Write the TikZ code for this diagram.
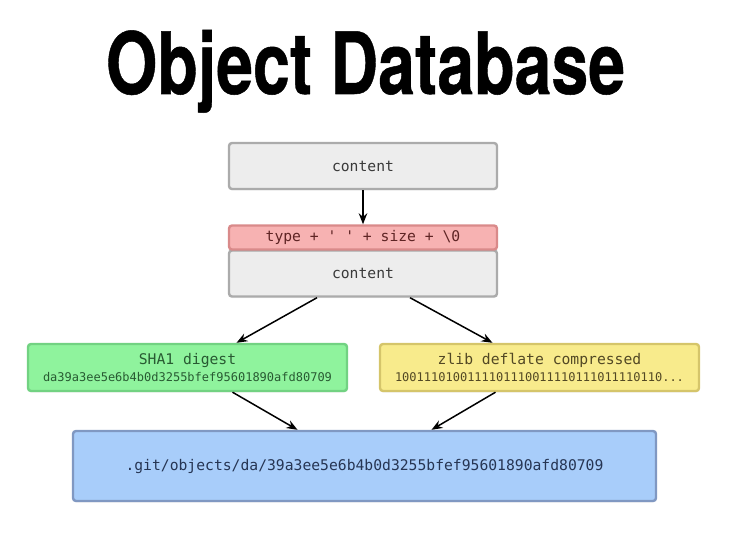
\documentclass[tikz,border=0pt]{standalone}
\usepackage{fontspec}
\usepackage{graphicx}
\usetikzlibrary{arrows.meta,shadows}
\setmonofont{DejaVu Sans Mono}
\newfontfamily\titlefont[FakeBold=0.6]{TeX Gyre Heros Bold}
\definecolor{grayfill}{HTML}{EDEDED}
\definecolor{grayline}{HTML}{ABABAB}
\definecolor{graytext}{HTML}{3A3A3A}
\definecolor{redfill}{HTML}{F7B2B2}
\definecolor{redline}{HTML}{D98A8A}
\definecolor{redtext}{HTML}{5E2424}
\definecolor{greenfill}{HTML}{8FF39D}
\definecolor{greenline}{HTML}{72D282}
\definecolor{greentext}{HTML}{285A32}
\definecolor{yellowfill}{HTML}{F8EB8C}
\definecolor{yellowline}{HTML}{D5C56A}
\definecolor{yellowtext}{HTML}{524824}
\definecolor{bluefill}{HTML}{A8CDFA}
\definecolor{blueline}{HTML}{8098C2}
\definecolor{bluetext}{HTML}{263553}

\begin{document}
\begin{tikzpicture}[x=1pt,y=-1pt,
  box/.style={rectangle,rounded corners=3pt,line width=2.4pt,inner sep=0pt,
    font=\ttfamily\fontsize{14.7}{17}\selectfont,align=center,
    drop shadow={opacity=0.12,shadow xshift=0pt,shadow yshift=-1.5pt}},
  arr/.style={line width=1.5pt,-{Stealth[length=11pt,width=8.5pt]}}]
 \useasboundingbox (0,0) rectangle (736,556); %全体
 \node[anchor=base] (title) at (365.5,94) {\scalebox{0.77}[1]{\titlefont\fontsize{86}{90}\selectfont Object Database}}; %タイトル
 \node[box,draw=grayline,fill=grayfill,text=graytext,minimum width=268,minimum height=46] (raw) at (363,166) {content}; %元の内容
 \node[box,draw=grayline,fill=grayfill,text=graytext,minimum width=268,minimum height=46] (body) at (363,273.5) {content}; %ヘッダ付き内容
 \node[box,draw=redline,fill=redfill,text=redtext,minimum width=268,minimum height=24] (header) at (363,237.5) {type + ' ' + size + \textbackslash0}; %ヘッダ
 \node[box,draw=greenline,fill=greenfill,text=greentext,minimum width=319,minimum height=47] (sha) at (187.5,367.5)
  {SHA1 digest\\\fontsize{12}{17}\selectfont da39a3ee5e6b4b0d3255bfef95601890afd80709}; %ハッシュ
 \node[box,draw=yellowline,fill=yellowfill,text=yellowtext,minimum width=319,minimum height=47] (zlib) at (539.5,367.5)
  {zlib deflate compressed\\\fontsize{12}{17}\selectfont 1001110100111101110011110111011110110...}; %圧縮
 \node[box,draw=blueline,fill=bluefill,text=bluetext,minimum width=583,minimum height=70] (path) at (364.5,466)
  {.git/objects/da/39a3ee5e6b4b0d3255bfef95601890afd80709}; %保存先
 \draw[arr] (raw.south)--(header.north);
 \draw[arr] ([xshift=-46pt]body.south)--([xshift=49pt]sha.north);
 \draw[arr] ([xshift=47pt]body.south)--([xshift=-47pt]zlib.north);
 \draw[arr] ([xshift=45pt]sha.south)--([xshift=-67pt]path.north);
 \draw[arr] ([xshift=-44pt]zlib.south)--([xshift=67pt]path.north);
\end{tikzpicture}
\end{document}
